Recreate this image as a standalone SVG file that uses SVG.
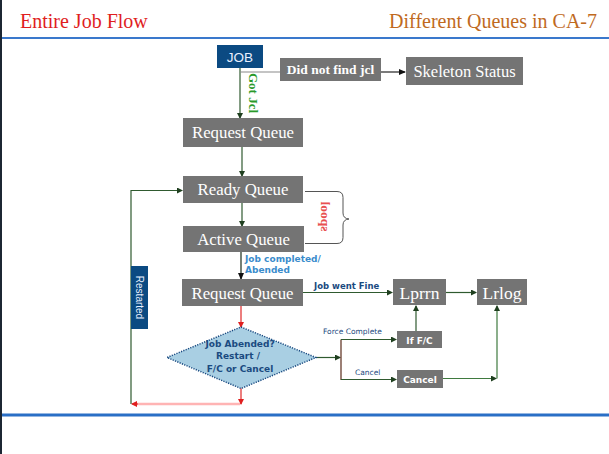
<svg xmlns="http://www.w3.org/2000/svg" width="609" height="454" viewBox="0 0 609 454">
<style>
.box{fill:#747474}
.blue{fill:#0b4a82}
.bt{font-family:"Liberation Serif",serif;fill:#fff;text-anchor:middle}
.lbl{font-family:"DejaVu Sans",sans-serif;font-weight:bold}
.g{stroke:#2f5a2f;stroke-width:1.2;fill:none}
.r{stroke:#e02828;stroke-width:1.2;fill:none}
</style>
<defs>
<marker id="ag" markerWidth="6" markerHeight="6" refX="5" refY="3" orient="auto" markerUnits="userSpaceOnUse"><path d="M0,0 L6,3 L0,6 z" fill="#1f3f1f"/></marker>
<marker id="ak" markerWidth="7" markerHeight="6" refX="6" refY="3" orient="auto" markerUnits="userSpaceOnUse"><path d="M0,0 L7,3 L0,6 z" fill="#111"/></marker>
<marker id="ar" markerWidth="6" markerHeight="6" refX="5" refY="3" orient="auto" markerUnits="userSpaceOnUse"><path d="M0,0 L6,3 L0,6 z" fill="#e02020"/></marker>
</defs>
<rect width="609" height="454" fill="#fff"/>
<rect x="0" y="0" width="2" height="454" fill="#1c2633"/>
<line x1="2" y1="38" x2="609" y2="38" stroke="#3a78cc" stroke-width="2"/>
<line x1="2" y1="415" x2="609" y2="415" stroke="#2a6fc6" stroke-width="3"/>
<text x="20" y="28" font-family="Liberation Serif,serif" font-size="20" fill="#e01e1e">Entire Job Flow</text>
<text x="597" y="28" font-family="Liberation Serif,serif" font-size="20" fill="#c06a1e" text-anchor="end">Different Queues in CA-7</text>

<g id="connectors">
<line x1="240" y1="68" x2="240" y2="118" class="g" marker-end="url(#ag)"/>
<line x1="240" y1="72" x2="280" y2="72" stroke="#8a8a8a" stroke-width="1.2"/>
<line x1="381" y1="72" x2="405" y2="72" stroke="#222" stroke-width="1.2" marker-end="url(#ak)"/>
<line x1="242" y1="147" x2="242" y2="176" class="g" marker-end="url(#ag)"/>
<line x1="242" y1="203" x2="242" y2="226" class="g" marker-end="url(#ag)"/>
<line x1="241" y1="252" x2="241" y2="279" stroke="#1a2a1a" stroke-width="1.2" fill="none" marker-end="url(#ak)"/>
<path d="M131,404 V190.5 H182" class="g" marker-end="url(#ag)"/>
<path d="M305,191.5 H337 Q343,191.5 343,197.5 V213 Q343,218.5 349,219 Q343,219.5 343,225 V237.5 Q343,243.5 337,243.5 H305" stroke="#555" stroke-width="1" fill="none"/>
<line x1="303" y1="292.5" x2="392" y2="292.5" class="g" marker-end="url(#ag)"/>
<line x1="446" y1="292.5" x2="476" y2="292.5" class="g" marker-end="url(#ag)"/>
<line x1="416" y1="331" x2="416" y2="306" class="g" marker-end="url(#ag)"/>
<line x1="443" y1="378.5" x2="496" y2="378.5" stroke="#3f7a3f" stroke-width="1.2" marker-end="url(#ag)"/>
<line x1="497" y1="378.5" x2="497" y2="306" stroke="#3f7a3f" stroke-width="1.2" marker-end="url(#ag)"/>
<line x1="241" y1="306" x2="241" y2="327" class="r" marker-end="url(#ar)"/>
<line x1="241" y1="388" x2="241" y2="404" class="r" marker-end="url(#ar)"/>
<line x1="240" y1="404" x2="133" y2="404" stroke="#ffb4b4" stroke-width="2.5"/>
<line x1="138" y1="404" x2="132" y2="404" stroke="#e02020" stroke-width="1" marker-end="url(#ar)"/>
<line x1="316" y1="357.5" x2="340" y2="357.5" class="g" marker-end="url(#ag)"/>
<line x1="341" y1="339.5" x2="341" y2="380" stroke="#5a2a1a" stroke-width="1.2"/>
<line x1="341" y1="339.5" x2="396" y2="339.5" class="g" marker-end="url(#ag)"/>
<line x1="341" y1="379.5" x2="396" y2="379.5" class="g" marker-end="url(#ag)"/>
<text transform="translate(249,93) rotate(90)" font-family="Liberation Serif,serif" font-weight="bold" font-size="13" fill="#2a9a2a" text-anchor="middle">Got Jcl</text>
<text transform="translate(321,216.5) rotate(90) scale(-1,1)" font-family="Liberation Serif,serif" font-weight="bold" font-size="13.5" fill="#e85050" text-anchor="middle">spool</text>
<text x="245" y="262" class="lbl" font-size="9" fill="#3a8ccc">Job completed/</text>
<text x="245" y="273" class="lbl" font-size="9" fill="#3a8ccc">Abended</text>
<text x="314" y="288.5" class="lbl" font-size="8.5" fill="#1a4a80">Job went Fine</text>
<text x="323" y="334" font-family="DejaVu Sans,sans-serif" font-size="7.5" fill="#1a4a80">Force Complete</text>
<text x="355" y="375" font-family="DejaVu Sans,sans-serif" font-size="7.5" fill="#1a4a80">Cancel</text>
</g>

<g id="job"><rect x="217" y="45" width="46" height="23" class="blue"/><text x="240" y="61.5" font-family="Liberation Sans,sans-serif" font-size="13.5" fill="#e8f0ff" text-anchor="middle">JOB</text></g>
<g id="notfound"><rect x="280" y="58" width="101" height="23" class="box"/><text x="330.5" y="74" class="bt" font-size="13.5" font-weight="bold">Did not find jcl</text></g>
<g id="skeleton"><rect x="406" y="57" width="117" height="28" class="box"/><text x="464.5" y="77" class="bt" font-size="16.5">Skeleton Status</text></g>
<g id="request1"><rect x="183" y="118" width="120" height="29" class="box"/><text x="243" y="138" class="bt" font-size="16.8">Request Queue</text></g>
<g id="ready"><rect x="183" y="176" width="120" height="27" class="box"/><text x="243" y="195" class="bt" font-size="16.8">Ready Queue</text></g>
<g id="active"><rect x="183" y="226" width="121" height="26" class="box"/><text x="243.5" y="245" class="bt" font-size="16.8">Active Queue</text></g>
<g id="request2"><rect x="182" y="279" width="121" height="27" class="box"/><text x="242.5" y="298.5" class="bt" font-size="16.8">Request Queue</text></g>
<g id="lprrn"><rect x="393" y="279" width="53" height="26" class="box"/><text x="419.5" y="298.5" class="bt" font-size="17.5">Lprrn</text></g>
<g id="lrlog"><rect x="477" y="279" width="50" height="26" class="box"/><text x="502" y="298.5" class="bt" font-size="17.5">Lrlog</text></g>
<g id="iffc"><rect x="397" y="331" width="45" height="17" class="box"/><text x="419.5" y="343.5" font-family="DejaVu Sans,sans-serif" font-weight="bold" font-size="9" fill="#fff" text-anchor="middle">If F/C</text></g>
<g id="cancel"><rect x="397" y="370" width="46" height="18" class="box"/><text x="420" y="383" font-family="DejaVu Sans,sans-serif" font-weight="bold" font-size="9" fill="#fff" text-anchor="middle">Cancel</text></g>
<g id="restarted"><rect x="131" y="266" width="17" height="63" class="blue"/><text transform="translate(136,297.5) rotate(90)" font-family="Liberation Sans,sans-serif" font-size="10" fill="#e8f0ff" text-anchor="middle">Restarted</text></g>
<g id="decision"><polygon points="241,327 316,357.5 241,388.5 167,357.5" fill="#a9cfe3" stroke="#1a4a80" stroke-width="1.5" stroke-dasharray="1.2,1.3"/>
<text x="240" y="347" class="lbl" font-size="9" fill="#1a4a80" text-anchor="middle">Job Abended?</text>
<text x="238" y="359" class="lbl" font-size="9" fill="#1a4a80" text-anchor="middle">Restart /</text>
<text x="240" y="372" class="lbl" font-size="9" fill="#1a4a80" text-anchor="middle">F/C or Cancel</text></g>
</svg>
